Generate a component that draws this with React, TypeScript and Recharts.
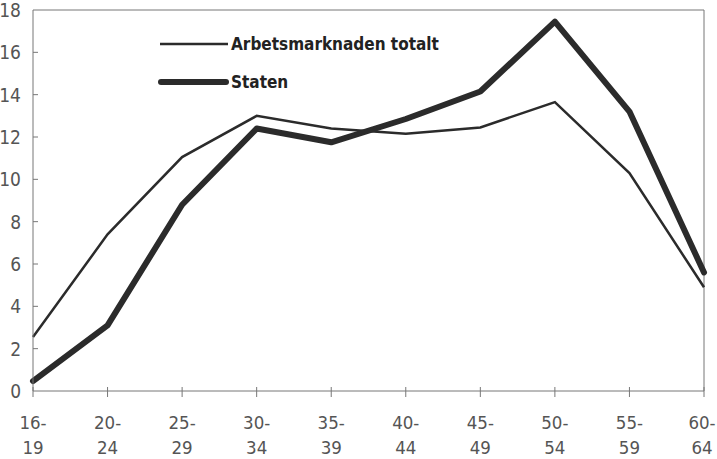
import React from "react";
import { LineChart, Line, XAxis, YAxis, ReferenceLine } from "recharts";

const ageGroups = ["16-19", "20-24", "25-29", "30-34", "35-39", "40-44", "45-49", "50-54", "55-59", "60-64"];
const arbetsmarknaden = [2.55, 7.4, 11.05, 13.0, 12.4, 12.15, 12.45, 13.65, 10.3, 4.9];
const staten = [0.47, 3.1, 8.8, 12.4, 11.75, 12.85, 14.15, 17.45, 13.2, 5.6];
const yTicks = [0, 2, 4, 6, 8, 10, 12, 14, 16, 18];

const data = ageGroups.map((g, i) => ({
  group: g,
  arbetsmarknaden: arbetsmarknaden[i],
  staten: staten[i],
}));

const FONT = '"Liberation Sans Narrow", "DejaVu Sans Condensed", sans-serif';
const AXIS = "#777";
const INK = "#2b2b2b";

const XTick = (props: any) => {
  const { x, y, payload, index } = props;
  const [a, b] = String(payload.value).split("-");
  // last label hugs the right edge
  const tx = index === ageGroups.length - 1 ? x - 2 : x;
  return (
    <g>
      <line x1={x} x2={x} y1={y - 4} y2={y + 6} stroke={AXIS} strokeWidth={1} />
      <text x={tx} y={y + 38} textAnchor="middle" fill="#555" fontSize={18.5} fontFamily={FONT}>
        {a}-
      </text>
      <text x={tx} y={y + 63} textAnchor="middle" fill="#555" fontSize={18.5} fontFamily={FONT}>
        {b}
      </text>
    </g>
  );
};

const YTick = (props: any) => {
  const { y, payload } = props;
  const ax = 33;
  return (
    <g>
      {payload.value > 0 && payload.value < 18 && (
        <line x1={ax} x2={ax + 5} y1={y} y2={y} stroke={AXIS} strokeWidth={1} />
      )}
      <text x={21} y={y + 7} textAnchor="end" fill="#555" fontSize={19} fontFamily={FONT}>
        {payload.value}
      </text>
    </g>
  );
};

const LegendBox = () => (
  <svg width={280} height={70} style={{ position: "absolute", left: 158, top: 30, overflow: "visible" }}>
    <line x1={2} x2={70} y1={14} y2={14} stroke={INK} strokeWidth={2.5} />
    <text x={73} y={20} fill="#222" fontSize={17} fontWeight="bold" fontFamily={FONT}>
      Arbetsmarknaden totalt
    </text>
    <line x1={3} x2={68} y1={52} y2={52} stroke={INK} strokeWidth={6} strokeLinecap="round" />
    <text x={73} y={58} fill="#222" fontSize={17} fontWeight="bold" fontFamily={FONT}>
      Staten
    </text>
  </svg>
);

export default function App() {
  return (
    <div style={{ position: "absolute", left: 0, top: 0, width: 717, height: 459, background: "#fff" }}>
      <LineChart
        width={717}
        height={459}
        data={data}
        margin={{ top: 10, right: 13, left: 0, bottom: 0 }}
      >
        <XAxis
          dataKey="group"
          stroke={AXIS}
          tickLine={false}
          tickSize={0}
          tickMargin={0}
          height={68}
          interval={0}
          tick={<XTick />}
        />
        <YAxis
          domain={[0, 18]}
          ticks={yTicks}
          stroke={AXIS}
          tickLine={false}
          width={33}
          interval={0}
          tick={<YTick />}
        />
        <ReferenceLine y={18} stroke={AXIS} strokeWidth={1} />
        <ReferenceLine x="60-64" stroke={AXIS} strokeWidth={1} />
        <Line
          dataKey="arbetsmarknaden"
          name="Arbetsmarknaden totalt"
          stroke={INK}
          strokeWidth={2.5}
          dot={false}
          isAnimationActive={false}
        />
        <Line
          dataKey="staten"
          name="Staten"
          stroke={INK}
          strokeWidth={6}
          strokeLinejoin="round"
          strokeLinecap="round"
          dot={false}
          isAnimationActive={false}
        />
      </LineChart>
      <LegendBox />
    </div>
  );
}
